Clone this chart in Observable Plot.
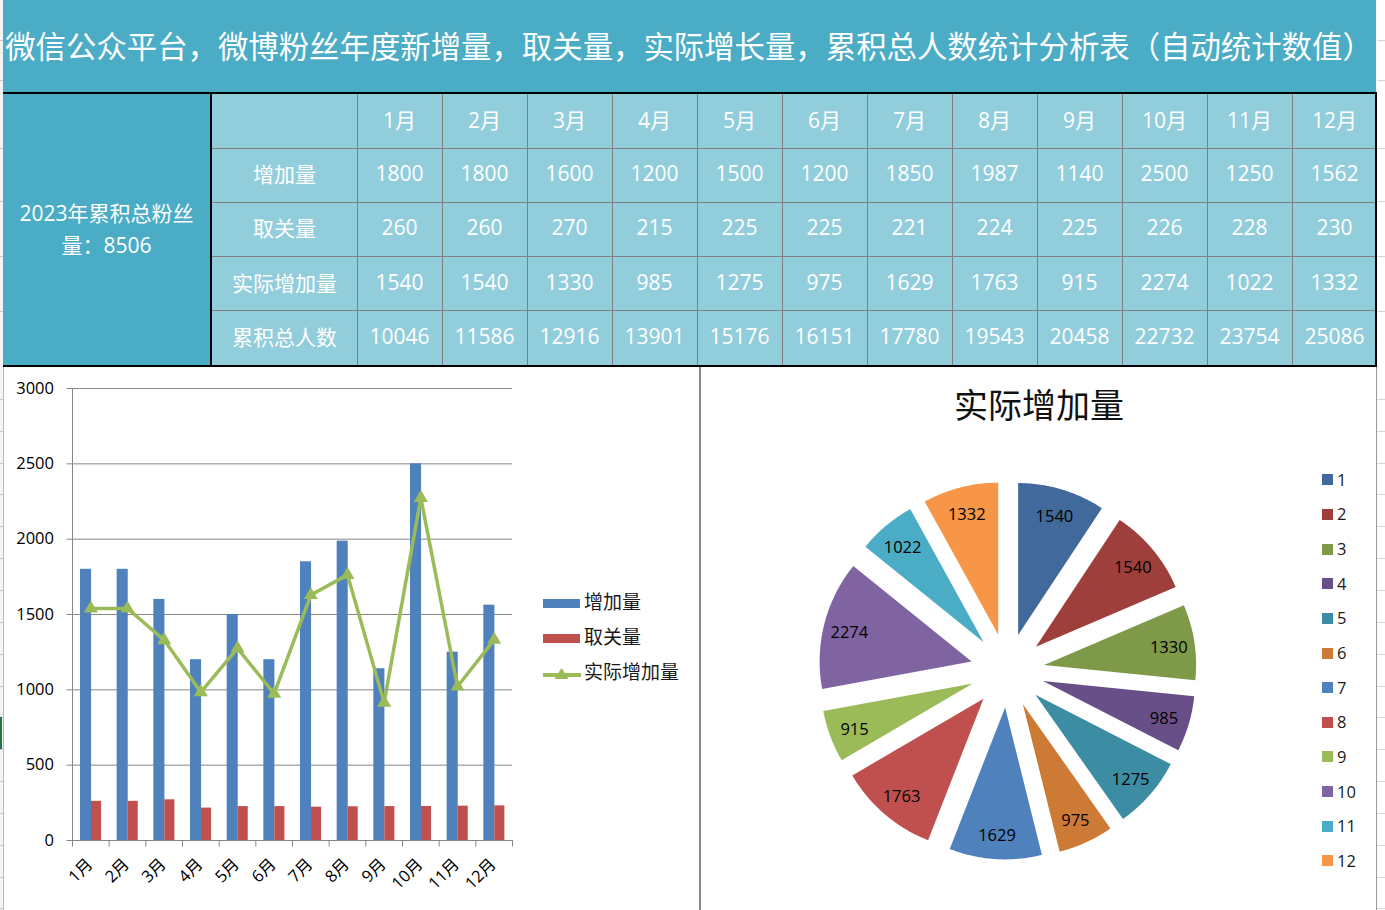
<!DOCTYPE html>
<html><head><meta charset="utf-8">
<script src="https://cdn.jsdelivr.net/npm/d3@7"></script>
<script src="https://cdn.jsdelivr.net/npm/@observablehq/plot@0.6"></script>
<style>
html,body{margin:0;padding:0;background:#fff;}
#page{position:relative;width:1385px;height:910px;overflow:hidden;font-family:"Open Sans","Noto Sans CJK SC",sans-serif;}
#page div{box-sizing:border-box;}
</style></head><body><div id="page"></div>
<script>
// ---------- data ----------
const title = "微信公众平台，微博粉丝年度新增量，取关量，实际增长量，累积总人数统计分析表（自动统计数值）";
const summaryLines = ["2023年累积总粉丝", "量：8506"];
const months = ["1月","2月","3月","4月","5月","6月","7月","8月","9月","10月","11月","12月"];
const rowLabels = ["增加量","取关量","实际增加量","累积总人数"];
const added = [1800,1800,1600,1200,1500,1200,1850,1987,1140,2500,1250,1562];
const unfollowed = [260,260,270,215,225,225,221,224,225,226,228,230];
const netGain = [1540,1540,1330,985,1275,975,1629,1763,915,2274,1022,1332];
const cumulative = [10046,11586,12916,13901,15176,16151,17780,19543,20458,22732,23754,25086];
const yTicks = [0,500,1000,1500,2000,2500,3000];
const barSeries = ["增加量","取关量","实际增加量"];
const barColors = ["#4F81BD","#C0504D","#9BBB59"];
const pieTitle = "实际增加量";
const pieLegendLabels = ["1","2","3","4","5","6","7","8","9","10","11","12"];
const pieColors = ["#41699B","#9E3F3C","#7E9A48","#684F87","#3C8DA3","#CC7A36",
                   "#4F81BD","#C0504D","#9BBB59","#8064A2","#4BACC6","#F79646"];

const page = document.getElementById("page");
function el(css, text, parent) {
  const e = document.createElement("div");
  e.style.position = "absolute";
  Object.assign(e.style, css);
  if (text != null) e.textContent = text;
  (parent || page).appendChild(e);
  return e;
}

// ---------- spreadsheet edges ----------
el({left:"0px",top:"0px",width:"3px",height:"910px",background:"#f3f3f3"});
el({left:"3px",top:"0px",width:"1px",height:"910px",background:"#b8b8b8"});
el({left:"1377px",top:"0px",width:"8px",height:"910px",background:"#ffffff"});
const stripRows = [40,80,148,201,256,311];
for (let y = 367 + 31.85; y < 910; y += 31.85) stripRows.push(y);
stripRows.forEach(y => {
  el({left:"0px",top:y+"px",width:"3px",height:"1px",background:"#c8c8c8"});
  el({left:"1377px",top:y+"px",width:"8px",height:"1px",background:"#d6d6d6"});
});
el({left:"0px",top:"717px",width:"2px",height:"32px",background:"#217346"});
el({left:"1376px",top:"367px",width:"1px",height:"543px",background:"#9a9a9a"});

// ---------- title band ----------
el({left:"3px",top:"0px",width:"1373px",height:"92px",background:"#4BACC6"});
el({left:"689px",top:"-1px",height:"92px",lineHeight:"92px",transform:"translateX(-50%)",whiteSpace:"nowrap",
    color:"#fff",fontSize:"30.4px",fontFamily:'"Noto Sans CJK SC",sans-serif'}, title);

// ---------- table ----------
const tTop = 94, rowH = 54.2, labelX = 212, labelW = 145, monX = 357, monW = 85;
el({left:"3px",top:tTop+"px",width:"207px",height:(rowH*5)+"px",background:"#4BACC6"});
el({left:"212px",top:tTop+"px",width:"1163px",height:(rowH*5)+"px",background:"#92CDDC"});
for (let r = 1; r < 5; r++) el({left:"212px",top:(tTop+rowH*r-0.5)+"px",width:"1163px",height:"1px",background:"#808080"});
for (let c = 0; c < 12; c++) el({left:(monX+monW*c-0.5)+"px",top:tTop+"px",width:"1px",height:(rowH*5)+"px",background:"#808080"});
// black borders
el({left:"3px",top:"92px",width:"1374px",height:"2px",background:"#000"});
el({left:"3px",top:"365px",width:"1374px",height:"2px",background:"#000"});
el({left:"210px",top:"92px",width:"2px",height:"275px",background:"#000"});
el({left:"1375px",top:"92px",width:"2px",height:"275px",background:"#000"});
const cellCss = (x,y,w,h) => ({left:x+"px",top:(y-2)+"px",width:w+"px",height:h+"px",display:"flex",alignItems:"center",
  justifyContent:"center",color:"#fff",fontSize:"21px",whiteSpace:"nowrap"});
// summary merged cell
const sum = el(cellCss(3,tTop+1,207,rowH*5));
sum.style.flexDirection = "column";
summaryLines.forEach(t => { const d = document.createElement("div"); d.textContent = t; d.style.lineHeight = "32px"; sum.appendChild(d); });
// header
months.forEach((m,c) => el(cellCss(monX+monW*c, tTop, monW, rowH), m));
const tableRows = [added, unfollowed, netGain, cumulative];
rowLabels.forEach((lab,r) => {
  const y = tTop + rowH*(r+1);
  el(cellCss(labelX, y, labelW, rowH), lab);
  tableRows[r].forEach((v,c) => el(cellCss(monX+monW*c, y, monW, rowH), String(v)));
});

// ---------- combo bar / line chart ----------
const rows = months.map((m,i) => ({i, month:m, added:added[i], unfollowed:unfollowed[i], net:netGain[i]}));
const mid = d => d.i + 0.5;
const gray = "#868686";
const bar = Plot.plot({
  width:700, height:542, marginLeft:72, marginRight:188, marginTop:20, marginBottom:70,
  style:{fontFamily:'"Open Sans","Noto Sans CJK SC",sans-serif', fontSize:"16.5px", color:"#000", background:"transparent", overflow:"visible"},
  x:{type:"linear", domain:[0,12]},
  y:{type:"linear", domain:[0,3000]},
  marks:[
    Plot.ruleY(yTicks, {stroke:gray, strokeWidth:1}),
    Plot.axisY({ticks:yTicks, tickSize:5.5, tickPadding:13, tickFormat:d => String(d), stroke:gray, fill:"#000", fontSize:16.5, label:null}),
    Plot.axisX({ticks:d3.range(13), tickSize:6.5, tickFormat:() => "", stroke:gray, label:null}),
    Plot.ruleX([0], {stroke:gray}),
    Plot.rectY(rows, {x1:d => d.i, x2:d => d.i + 1, y:"added", fill:barColors[0], insetLeft:8, insetRight:17.6}),
    Plot.rectY(rows, {x1:d => d.i, x2:d => d.i + 1, y:"unfollowed", fill:barColors[1], insetLeft:19, insetRight:7.6}),
    Plot.line(rows, {x:mid, y:"net", stroke:barColors[2], strokeWidth:3.5}),
    Plot.dot(rows, {x:mid, y:"net", symbol:"triangle", r:5.2, fill:barColors[2], stroke:null}),
    Plot.text(rows, {x:mid, y:() => 0, text:"month", rotate:-45, textAnchor:"end", dx:-1, dy:21, fontSize:16.5, fill:"#000"})
  ]
});
const barBox = el({left:"0px",top:"368px",width:"700px",height:"542px"});
barBox.appendChild(bar);

// separator
el({left:"699px",top:"367px",width:"2px",height:"543px",background:"#8a8a8a"});

// bar legend
barSeries.forEach((name,k) => {
  const cy = 603 + 35*k;
  if (k < 2) {
    el({left:"543px",top:(cy-4.5)+"px",width:"37px",height:"9px",background:barColors[k]});
  } else {
    const box = el({left:"543px",top:(cy-8)+"px",width:"38px",height:"16px"});
    box.innerHTML = `<svg width="38" height="16"><line x1="0" y1="9" x2="38" y2="9" stroke="${barColors[k]}" stroke-width="4"/>` +
      `<polygon points="18.5,2 25.5,13 11.5,13" fill="${barColors[k]}"/></svg>`;
  }
  el({left:"584px",top:(cy-15)+"px",height:"26px",lineHeight:"26px",fontSize:"19px",color:"#1a1a1a",
      fontFamily:'"Noto Sans CJK SC",sans-serif',whiteSpace:"nowrap"}, name);
});

// ---------- exploded pie ----------
const R = 152, half = 235, L = half / R, explode = 37 / R, labelR = 0.83;
const arcs = d3.pie().sort(null).value(d => d)(netGain);
const pieMarks = [];
const labels = [];
arcs.forEach((a,i) => {
  const m = (a.startAngle + a.endAngle) / 2;
  const ox = explode * Math.sin(m), oy = explode * Math.cos(m);
  const pts = [{x:ox, y:oy}];
  const n = 48;
  for (let k = 0; k <= n; k++) {
    const t = a.startAngle + (a.endAngle - a.startAngle) * k / n;
    pts.push({x:ox + Math.sin(t), y:oy + Math.cos(t)});
  }
  pieMarks.push(Plot.line(pts, {x:"x", y:"y", fill:pieColors[i], stroke:"none", curve:"linear-closed"}));
  labels.push({x:ox + labelR*Math.sin(m), y:oy + labelR*Math.cos(m), text:String(netGain[i])});
});
const pie = Plot.plot({
  width:2*half, height:2*half, margin:0,
  style:{fontFamily:'"Open Sans","Noto Sans CJK SC",sans-serif', background:"transparent", overflow:"visible"},
  x:{domain:[-L, L], axis:null},
  y:{domain:[-L, L], axis:null},
  marks:[...pieMarks, Plot.text(labels, {x:"x", y:"y", text:"text", fontSize:16.5, dy:2, fill:"#000"})]
});
const pieBox = el({left:(1006.5-half)+"px",top:(669.5-half)+"px",width:(2*half)+"px",height:(2*half)+"px"});
pieBox.appendChild(pie);

el({left:"1039px",top:"382px",transform:"translateX(-50%)",fontSize:"34px",lineHeight:"44px",color:"#111",
    fontFamily:'"Noto Sans CJK SC",sans-serif',whiteSpace:"nowrap"}, pieTitle);

pieLegendLabels.forEach((lab,k) => {
  const cy = 479.7 + 34.66*k;
  el({left:"1322px",top:(cy-5.5)+"px",width:"11px",height:"11px",background:pieColors[k]});
  el({left:"1337px",top:(cy-12)+"px",height:"24px",lineHeight:"24px",fontSize:"16.5px",color:"#1a1a1a",whiteSpace:"nowrap"}, lab);
});
</script></body></html>
